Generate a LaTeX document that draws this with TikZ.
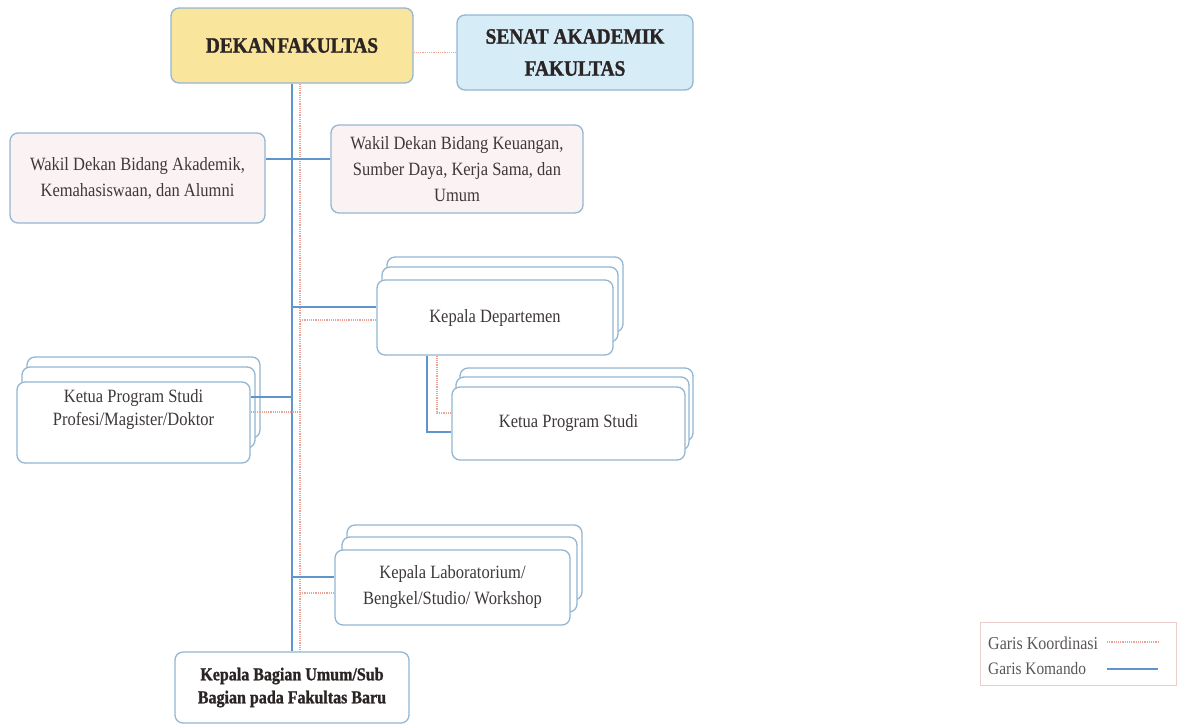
\documentclass[tikz,border=0pt]{standalone}
\usepackage{fontspec}
\setmainfont{Liberation Serif}[FakeStretch=0.88,BoldFeatures={FakeBold=1.2}]
\usetikzlibrary{positioning}

\definecolor{cKomando}{HTML}{5F95CC}
\definecolor{cKoord}{HTML}{EDA394}
\definecolor{cRim}{HTML}{93B6D2}
\definecolor{cDekan}{HTML}{F9E69C}
\definecolor{cSenat}{HTML}{D6EDF8}
\definecolor{cWakil}{HTML}{FBF3F3}
\definecolor{cInk}{HTML}{3E3838}
\definecolor{cHead}{HTML}{2B2424}
\definecolor{cLegend}{HTML}{EBCFCF}

\begin{document}
\begin{tikzpicture}[x=1pt,y=-1pt,
  box/.style ={draw=cRim,line width=1.3pt,rounded corners=8pt,align=center,text=cInk,inner sep=0pt,font=\fontsize{18.75}{26}\selectfont},
  head/.style ={box,text=cHead,font=\fontsize{22}{32}\selectfont\bfseries},
  stackbox/.style ={box,fill=white},
  komando/.style ={draw=cKomando,line width=1.7pt},
  koord/.style ={draw=cKoord,line width=1.2pt,densely dotted}]

\useasboundingbox (0,0) rectangle (1177,726);

%Dekan dan Senat
\node[head,fill=cDekan,minimum width=242pt,minimum height=75pt] (dekan) at (292,45.5) {DEKAN\hspace{1.5pt}FAKULTAS};
\node[head,fill=cSenat,minimum width=236pt,minimum height=75pt] (senat) at (575,52.5) {SENAT AKADEMIK\\FAKULTAS};

%Wakil Dekan
\node[box,fill=cWakil,minimum width=255pt,minimum height=90pt] (wakilA) at (137.5,178) {Wakil Dekan Bidang Akademik,\\Kemahasiswaan, dan Alumni};
\node[box,fill=cWakil,minimum width=252pt,minimum height=88pt] (wakilB) at (457,169) {Wakil Dekan Bidang Keuangan,\\Sumber Daya, Kerja Sama, dan\\Umum};

%Kepala Departemen
\node[stackbox,minimum width=236pt,minimum height=75pt] (dep3) at (505,294.5) {};
\node[stackbox,minimum width=236pt,minimum height=75pt] (dep2) at (500,304.5) {};
\node[stackbox,minimum width=236pt,minimum height=75pt] (dep) at (495,317.5) {Kepala Departemen};

%Ketua Program Studi Profesi/Magister/Doktor
\node[stackbox,minimum width=233pt,minimum height=81pt] (prof3) at (143.5,397.5) {};
\node[stackbox,minimum width=233pt,minimum height=81pt] (prof2) at (138.5,407.5) {};
\node[stackbox,minimum width=233pt,minimum height=81pt,font=\fontsize{18.75}{23}\selectfont] (prof) at (133.5,422.5) {Ketua Program Studi\\Profesi/Magister/Doktor\\[8pt]};

%Ketua Program Studi
\node[stackbox,minimum width=233pt,minimum height=73pt] (prodi3) at (576.5,404.5) {};
\node[stackbox,minimum width=233pt,minimum height=73pt] (prodi2) at (572.5,413.5) {};
\node[stackbox,minimum width=233pt,minimum height=73pt] (prodi) at (568.5,423.5) {Ketua Program Studi};

%Kepala Laboratorium
\node[stackbox,minimum width=235pt,minimum height=75pt] (lab3) at (464.5,562.5) {};
\node[stackbox,minimum width=235pt,minimum height=75pt] (lab2) at (459.5,574.5) {};
\node[stackbox,minimum width=235pt,minimum height=75pt] (lab) at (452.5,587.5) {Kepala Laboratorium/\\Bengkel/Studio/ Workshop};

%Kepala Bagian
\node[box,fill=white,text=cHead,font=\fontsize{18.2}{23}\selectfont\bfseries,minimum width=234pt,minimum height=71pt] (kabag) at (292,687.5) {Kepala Bagian Umum/Sub\\Bagian pada Fakultas Baru};

%garis
\draw [koord] (dekan.east |- senat.west) -- (senat.west);
\draw [komando] (dekan.south) -- (kabag.north);
\draw [koord] ([xshift=8pt]dekan.south) -- ([xshift=8pt]kabag.north);

\coordinate (b1) at (292,159);
\coordinate (b2) at (292,307);
\coordinate (r2) at (300,320);
\coordinate (b3) at (292,397);
\coordinate (r3) at (300,412);
\coordinate (b4) at (292,577);
\coordinate (r4) at (300,593);
\coordinate (b5) at (427,432);
\coordinate (r5) at (437,413);

\draw [komando] (wakilA.east |- b1) -- (wakilB.west |- b1);
\draw [komando] (b2) -- (dep.west |- b2);
\draw [koord] (r2) -- (dep.west |- r2);
\draw [komando] (prof.east |- b3) -- (b3);
\draw [koord] (prof.east |- r3) -- (r3);
\draw [komando] (b4) -- (lab.west |- b4);
\draw [koord] (r4) -- (lab.west |- r4);
\draw [komando] (dep.south -| b5) -- (b5) -- (prodi.west |- b5);
\draw [koord] (dep.south -| r5) -- (r5) -- (prodi.west |- r5);

%legenda
\node[draw=cLegend,line width=0.8pt,minimum width=196pt,minimum height=63pt,inner sep=0pt] (legend) at (1078,653.5) {};
\node[anchor=west,text=cInk!85,inner sep=0pt,font=\fontsize{18.2}{20}\selectfont] (kor) at (988,643) {Garis Koordinasi};
\node[anchor=west,text=cInk!85,inner sep=0pt,font=\fontsize{17.5}{20}\selectfont] (kom) at (988,669) {Garis Komando};
\coordinate (l1) at (1107,642);
\coordinate (l2) at (1158,642);
\coordinate (l3) at (1107,669);
\coordinate (l4) at (1158,669);
\draw [koord] (l1) -- (l2);
\draw [komando] (l3) -- (l4);
\end{tikzpicture}
\end{document}
